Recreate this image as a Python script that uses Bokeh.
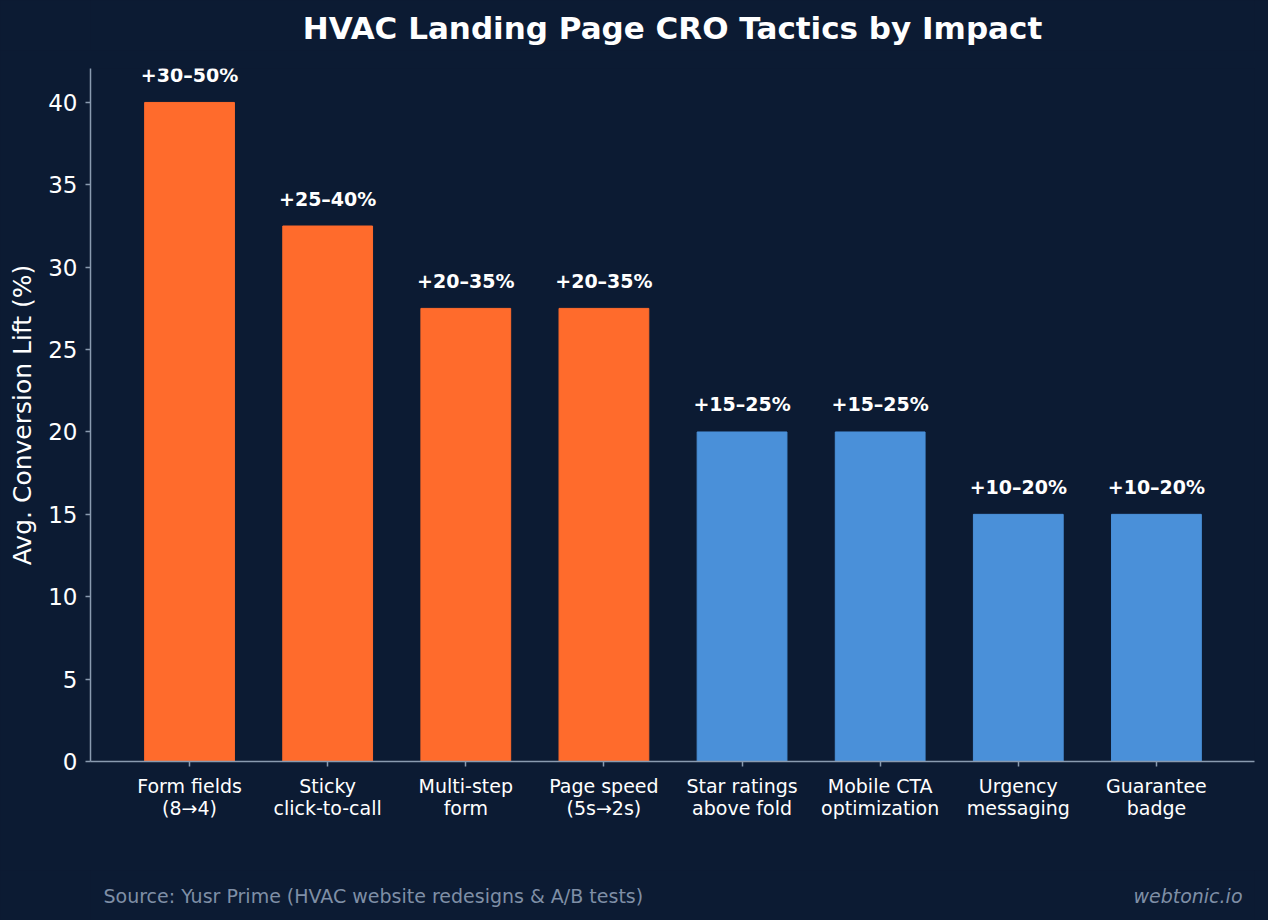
from bokeh.plotting import figure
from bokeh.models import FixedTicker, ColumnDataSource, Range1d
from bokeh.layouts import column
from bokeh.core.properties import value
from bokeh.embed import file_html
from bokeh.resources import INLINE

tactics = ["Form fields\n(8→4)", "Sticky\nclick-to-call", "Multi-step\nform", "Page speed\n(5s→2s)",
           "Star ratings\nabove fold", "Mobile CTA\noptimization", "Urgency\nmessaging", "Guarantee\nbadge"]
lift = [40, 32.5, 27.5, 27.5, 20, 20, 15, 15]
ranges_txt = ["+30–50%", "+25–40%", "+20–35%", "+20–35%", "+15–25%", "+15–25%", "+10–20%", "+10–20%"]
high_impact = [True, True, True, True, False, False, False, False]
y_ticks = [0, 5, 10, 15, 20, 25, 30, 35, 40]
title_text = "HVAC Landing Page CRO Tactics by Impact"
source_text = "Source: Yusr Prime (HVAC website redesigns & A/B tests)"
brand_text = "webtonic.io"

BG = "#0c1b33"
ORANGE = "#ff6b2c"
BLUE = "#4a90d9"
AXIS = "#8a9bb0"
MUTED = "#7f8fa6"
FONT = "DejaVu Sans"

xs = list(range(len(tactics)))
colors = [ORANGE if h else BLUE for h in high_impact]
src = ColumnDataSource(dict(x=xs, top=lift, color=colors, lab=ranges_txt,
                            ly=[v + 1.0 for v in lift]))


def text_strip(height):
    # a strip whose frame is aligned (by the column layout) with the main frame, x 90..1254
    f = figure(width=1268, height=height, output_backend="svg", toolbar_location=None,
               x_range=Range1d(90, 1254), y_range=Range1d(height, 0),
               background_fill_color=BG, border_fill_color=BG, min_border=0)
    f.axis.visible = False
    f.grid.visible = False
    f.outline_line_color = None
    return f


head = text_strip(50)
head.text(x=[672], y=[27], text=[title_text], text_align="center", text_baseline="middle",
          text_font=value(FONT), text_font_style="bold", text_font_size="31px", text_color="white")

p = figure(width=1268, height=820, output_backend="svg", toolbar_location=None,
           x_range=Range1d(-0.717, 7.71), y_range=Range1d(0, 42.06),
           background_fill_color=BG, border_fill_color=BG,
           min_border_left=90, min_border_right=14, min_border_top=18, min_border_bottom=109)
p.outline_line_color = None
p.grid.visible = False

p.vbar(x="x", top="top", width=0.65, bottom=0, color="color", source=src)
p.text(x="x", y="ly", text="lab", source=src, text_align="center", text_baseline="bottom",
       text_font=value(FONT), text_font_style="bold", text_font_size="19px", text_color="white")

p.xaxis.ticker = FixedTicker(ticks=xs)
p.xaxis.major_label_overrides = {i: t for i, t in enumerate(tactics)}
p.yaxis.ticker = FixedTicker(ticks=y_ticks)

for ax in (p.xaxis[0], p.yaxis[0]):
    ax.axis_line_color = AXIS
    ax.axis_line_width = 1.5
    ax.major_tick_line_color = AXIS
    ax.major_tick_line_width = 1.5
    ax.major_tick_out = 5
    ax.major_tick_in = 0
    ax.minor_tick_line_color = None
    ax.major_label_text_color = "white"
    ax.major_label_text_font = FONT

p.xaxis.major_label_text_font_size = "19px"
p.xaxis.major_label_text_line_height = 1.0
p.xaxis.major_label_standoff = 8
p.yaxis.major_label_text_font_size = "23px"
p.yaxis.major_label_standoff = 8
p.yaxis.axis_label = "Avg. Conversion Lift (%)"
p.yaxis.axis_label_text_font = FONT
p.yaxis.axis_label_text_font_size = "25px"
p.yaxis.axis_label_text_font_style = "normal"
p.yaxis.axis_label_text_color = "white"
p.yaxis.axis_label_standoff = 8

foot = text_strip(50)
foot.text(x=[103], y=[25], text=[source_text], text_align="left", text_baseline="middle",
          text_font=value(FONT), text_font_size="19px", text_color=MUTED)
foot.text(x=[1242], y=[25], text=[brand_text], text_align="right", text_baseline="middle",
          text_font=value(FONT), text_font_style="italic", text_font_size="19px", text_color=MUTED)

layout = column(head, p, foot, spacing=0)
html = file_html(layout, INLINE)
html = html.replace("</head>", "<style>html,body{margin:0;padding:0;background:#0c1b33;}</style></head>", 1)
open("out.html", "w").write(html)
